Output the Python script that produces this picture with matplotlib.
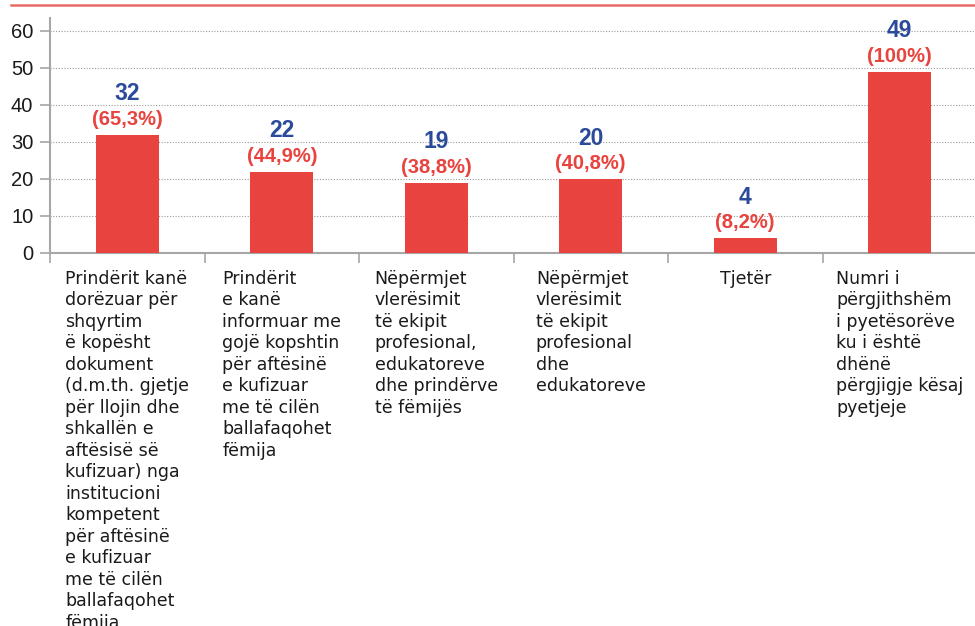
import matplotlib
matplotlib.use("Agg")
import matplotlib.pyplot as plt
from matplotlib.lines import Line2D

categories = [
    "Prindërit kanë\ndorëzuar për\nshqyrtim\në kopësht\ndokument\n(d.m.th. gjetje\npër llojin dhe\nshkallën e\naftësisë së\nkufizuar) nga\ninstitucioni\nkompetent\npër aftësinë\ne kufizuar\nme të cilën\nballafaqohet\nfëmija",
    "Prindërit\ne kanë\ninformuar me\ngojë kopshtin\npër aftësinë\ne kufizuar\nme të cilën\nballafaqohet\nfëmija",
    "Nëpërmjet\nvlerësimit\ntë ekipit\nprofesional,\nedukatoreve\ndhe prindërve\ntë fëmijës",
    "Nëpërmjet\nvlerësimit\ntë ekipit\nprofesional\ndhe\nedukatoreve",
    "Tjetër",
    "Numri i\npërgjithshëm\ni pyetësorëve\nku i është\ndhënë\npërgjigje kësaj\npyetjeje",
]
values = [32, 22, 19, 20, 4, 49]
percent_labels = ["(65,3%)", "(44,9%)", "(38,8%)", "(40,8%)", "(8,2%)", "(100%)"]
yticks = [0, 10, 20, 30, 40, 50, 60]

RED = "#e8433e"
BLUE = "#2c4a9a"
GRAY = "#a6a6a6"

plt.rcParams['font.family'] = ['Liberation Sans', 'DejaVu Sans']

W, H = 975, 626
fig = plt.figure(figsize=(W / 100, H / 100), dpi=100)
left = 50 / W
right = 977 / W
bottom = 1 - 253 / H
top = 1 - 18 / H
ax = fig.add_axes([left, bottom, right - left, top - bottom])

n = len(values)
xs = list(range(n))
ax.bar(xs, values, width=0.41, color=RED, zorder=3)
ax.set_xlim(-0.5, n - 0.5)
ax.set_ylim(0, 63.5)

# grid
for t in yticks[1:]:
    ax.axhline(t, color="#999999", lw=0.8, linestyle=(0, (1, 1.5)), zorder=1)

ax.set_yticks(yticks)
ax.set_yticklabels([str(t) for t in yticks], fontsize=14.5, color="#1a1a1a")
ax.tick_params(axis='y', length=7, width=1.2, color=GRAY, pad=5)

# boundaries as major ticks, labels as minor ticks
ax.set_xticks([i - 0.5 for i in range(n)])
ax.set_xticklabels([])
ax.tick_params(axis='x', which='major', length=7, width=1.2, color=GRAY)
ax.set_xticks(xs, minor=True)
ax.set_xticklabels(categories, minor=True, fontsize=12.5, color="#1a1a1a",
                   family=['DejaVu Sans'])
ax.tick_params(axis='x', which='minor', length=0, pad=12)
for lbl in ax.get_xticklabels(minor=True):
    lbl.set_multialignment('left')
    lbl.set_linespacing(1.25)

for s in ['top', 'right']:
    ax.spines[s].set_visible(False)
for s in ['left', 'bottom']:
    ax.spines[s].set_color(GRAY)
    ax.spines[s].set_linewidth(1.5)

for x, v, p in zip(xs, values, percent_labels):
    ax.annotate(p, (x, v), xytext=(0, 11), textcoords='offset points',
                ha='center', va='center', fontsize=14.5, fontweight='bold', color=RED, zorder=4)
    ax.annotate(str(v), (x, v), xytext=(0, 29.5), textcoords='offset points',
                ha='center', va='center', fontsize=16.5, fontweight='bold', color=BLUE, zorder=4)

# top red rule
fig.add_artist(Line2D([11 / W, 1.0], [1 - 5 / H, 1 - 5 / H], color="#e86a68", lw=1.8,
                      transform=fig.transFigure))

fig.savefig("out.png", dpi=100)
